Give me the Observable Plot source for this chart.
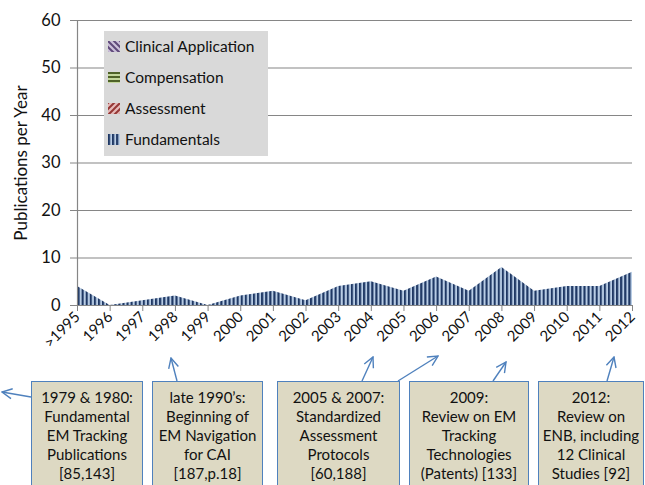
<!DOCTYPE html>
<html>
<head>
<meta charset="utf-8">
<script src="https://cdn.jsdelivr.net/npm/d3@7"></script>
<script src="https://cdn.jsdelivr.net/npm/@observablehq/plot@0.6"></script>
<style>
  html, body { margin: 0; padding: 0; background: #fff; }
  #wrap { position: relative; width: 645px; height: 485px; overflow: hidden; font-family: Lato, "Open Sans", sans-serif; }
  #legend { position: absolute; left: 104px; top: 31px; width: 164px; height: 125px; background: #d9d9d9; }
  .lg { position: absolute; left: 4px; height: 20px; display: flex; align-items: center; font-size: 15.5px; color: #111; }
  .lg svg { margin-right: 5px; }
  .note { position: absolute; top: 381px; height: 110px; box-sizing: border-box; background: #ddd9c3; border: 1.5px solid #4f81bd; text-align: center; font-size: 15px; line-height: 19px; padding-top: 6px; color: #111; }
  #arrows { position: absolute; left: 0; top: 0; pointer-events: none; }
</style>
</head>
<body>
<div id="wrap"></div>
<script>
// ---- data ----
const years = [">1995","1996","1997","1998","1999","2000","2001","2002","2003","2004","2005","2006","2007","2008","2009","2010","2011","2012"];
const fundamentals       = [4,0,1,2,0,2,3,1,4,5,3,6,3,8,3,4,4,7];
const assessment         = [0,0,0,0,0,0,0,0,0,0,0,0,0,0,0,0,0,0];
const compensation       = [0,0,0,0,0,0,0,0,0,0,0,0,0,0,0,0,0,0];
const clinicalApplication= [0,0,0,0,0,0,0,0,0,0,0,0,0,0,0,0,0,0];
const seriesNames = ["Fundamentals","Assessment","Compensation","Clinical Application"];
const legendOrder = ["Clinical Application","Compensation","Assessment","Fundamentals"];
const yTicks = [0,10,20,30,40,50,60];
const notes = [
  ["1979 & 1980:","Fundamental","EM Tracking","Publications","[85,143]"],
  ["late 1990’s:","Beginning of","EM Navigation","for CAI","[187,p.18]"],
  ["2005 & 2007:","Standardized","Assessment","Protocols","[60,188]"],
  ["2009:","Review on EM","Tracking","Technologies","(Patents) [133]"],
  ["2012:","Review on","ENB, including","12 Clinical","Studies [92]"]
];

// ---- styling / layout ----
const patternIds = {
  "Fundamentals": "pat-fund",
  "Assessment": "pat-assess",
  "Compensation": "pat-comp",
  "Clinical Application": "pat-clin"
};
const noteBoxes = [[31,112],[152,111],[277,123],[409,120],[538,106]];
const arrowSegs = [
  [31,397,2,392],
  [177,381,171,358],
  [362,381,373,357],
  [398,381,438,356],
  [493,381,506,362],
  [607,381,614,357]
];

const valuesBySeries = {
  "Fundamentals": fundamentals,
  "Assessment": assessment,
  "Compensation": compensation,
  "Clinical Application": clinicalApplication
};
const table = [];
for (const s of seriesNames) {
  valuesBySeries[s].forEach((v, i) => table.push({i, year: years[i], series: s, value: v}));
}

const grey = "#868686";
const chart = Plot.plot({
  width: 645,
  height: 485,
  marginTop: 20,
  marginBottom: 180,
  marginLeft: 77,
  marginRight: 13,
  style: { fontFamily: "Lato, 'Open Sans', sans-serif", color: "#111", background: "transparent" },
  x: { type: "linear", domain: [0, years.length - 1], axis: null },
  y: { domain: [0, 60], axis: null },
  color: { domain: seriesNames, range: seriesNames.map(s => `url(#${patternIds[s]})`) },
  marks: [
    Plot.gridY(yTicks.slice(1), { stroke: grey, strokeOpacity: 1, strokeWidth: 1.2 }),
    Plot.areaY(table, Plot.stackY({ x: "i", y: "value", fill: "series", z: "series", order: seriesNames })),
    Plot.ruleX([0], { stroke: grey, strokeWidth: 1.2 }),
    Plot.ruleY([0], { stroke: grey, strokeWidth: 1.2 }),
    Plot.axisY({ ticks: yTicks, tickSize: 7, tickPadding: 10, stroke: grey, fontSize: 16.5, label: null }),
    Plot.axisX({ ticks: d3.range(years.length), tickFormat: i => years[i], tickSize: 6, tickPadding: 3, tickRotate: -45, stroke: grey, fontSize: 15, label: null }),
    Plot.text(["Publications per Year"], { frameAnchor: "left", textAnchor: "middle", rotate: -90, dx: -56, fontSize: 17, fill: "#111" })
  ]
});

// pattern defs
const svg = d3.select(chart);
const defs = svg.insert("defs", ":first-child");
function stripePattern(id, w, h, bg, fg, drawFn) {
  const p = defs.append("pattern").attr("id", id).attr("patternUnits", "userSpaceOnUse").attr("width", w).attr("height", h);
  p.append("rect").attr("width", w).attr("height", h).attr("fill", bg);
  drawFn(p, fg);
}
stripePattern("pat-fund", 4.08, 4, "#b9cde5", "#1f3864", (p, c) => p.append("rect").attr("x", 0).attr("width", 2.1).attr("height", 4).attr("fill", c));
stripePattern("pat-comp", 4, 4, "#c3d69b", "#4f6228", (p, c) => p.append("rect").attr("y", 0).attr("width", 4).attr("height", 2).attr("fill", c));
stripePattern("pat-assess", 6, 6, "#e6b9b8", "#953735", (p, c) => p.append("path").attr("d", "M-1,7 L7,-1 M-1,1 L1,-1 M5,7 L7,5").attr("stroke", c).attr("stroke-width", 2));
stripePattern("pat-clin", 6, 6, "#ccc0da", "#5f497a", (p, c) => p.append("path").attr("d", "M-1,-1 L7,7 M5,-1 L7,1 M-1,5 L1,7").attr("stroke", c).attr("stroke-width", 2));

const wrap = document.getElementById("wrap");
wrap.appendChild(chart);

// legend
const legend = document.createElement("div");
legend.id = "legend";
legendOrder.forEach((s, k) => {
  const row = document.createElement("div");
  row.className = "lg";
  row.style.top = (5 + k * 31) + "px";
  row.innerHTML = `<svg width="12" height="11"><rect width="12" height="11" fill="url(#${patternIds[s]})"/></svg><span>${s}</span>`;
  legend.appendChild(row);
});
wrap.appendChild(legend);

// annotation boxes
notes.forEach((lines, k) => {
  const d = document.createElement("div");
  d.className = "note";
  d.style.left = noteBoxes[k][0] + "px";
  d.style.width = noteBoxes[k][1] + "px";
  d.innerHTML = lines.join("<br>");
  wrap.appendChild(d);
});

// arrows
const ov = d3.select(wrap).append("svg").attr("id", "arrows").attr("width", 645).attr("height", 485);
ov.append("defs").append("marker")
  .attr("id", "head").attr("viewBox", "0 0 12 12").attr("refX", 11).attr("refY", 6)
  .attr("markerWidth", 12).attr("markerHeight", 12).attr("markerUnits", "userSpaceOnUse").attr("orient", "auto")
  .append("path").attr("d", "M1,1 L11,6 L1,11").attr("fill", "none").attr("stroke", "#4f81bd").attr("stroke-width", 1.4);
ov.selectAll("line.a").data(arrowSegs).join("line")
  .attr("x1", d => d[0]).attr("y1", d => d[1]).attr("x2", d => d[2]).attr("y2", d => d[3])
  .attr("stroke", "#4f81bd").attr("stroke-width", 1.4).attr("marker-end", "url(#head)");
</script>
</body>
</html>
